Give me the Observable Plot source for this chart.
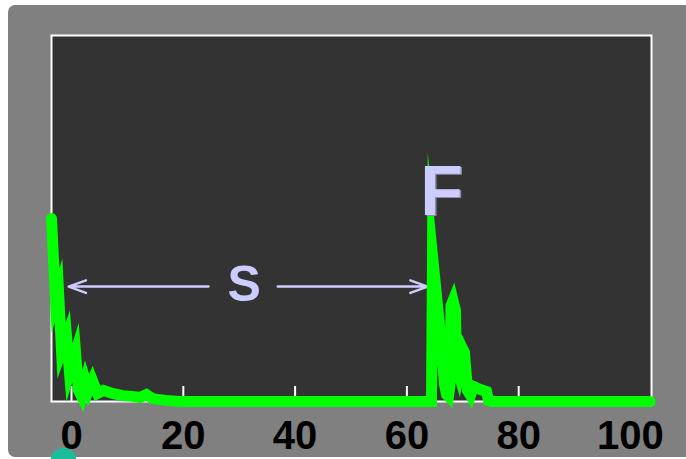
<!DOCTYPE html>
<html>
<head>
<meta charset="utf-8">
<script src="https://cdn.jsdelivr.net/npm/d3@7"></script>
<script src="https://cdn.jsdelivr.net/npm/@observablehq/plot@0.6"></script>
<style>
  html, body { margin: 0; padding: 0; background: #ffffff; }
  #wrap { position: relative; width: 686px; height: 459px; overflow: hidden; }
  #panel { position: absolute; left: 8px; top: 5px; width: 700px; height: 452px; background: #808080; border-radius: 7px; }
  #chart { position: absolute; left: 0; top: 0; }
</style>
</head>
<body>
<div id="wrap"><div id="panel"></div><div id="chart"></div></div>
<script>
// Signal trace (x position, amplitude)
const traceX = [-3.58, -2.86, -2.33, -1.79, -0.89, -0.36, 0.72, 1.25, 1.79, 2.5, 3.04, 3.76, 4.65, 5.72, 7.33, 9.12, 10.9, 12.3, 13.4, 14.5, 16.8, 19.5,
  64.40, 64.58, 66.01, 66.73, 67.08, 67.44, 67.71, 67.89, 68.25, 68.69, 68.87, 69.23, 69.59, 69.95, 70.30,
  70.84, 71.38, 71.91, 73.17, 74.24, 74.60, 75.31, 103.5];
const traceY = [50.0, 27.6, 30.3, 13.9, 17.8, 7.9, 13.4, 3.0, 1.4, 5.7, 3.0, 5.7, 2.2, 3.0, 2.2, 1.6, 1.4, 1.1, 1.9, 0.8, 0.3, 0,
  0, 39.9, 18.0, 4.64, 1.91, 1.37, 4.37, 26.23, 27.6, 24.86, 9.84, 7.92, 11.2, 14.48, 13.39,
  3.01, 1.64, 4.1, 3.28, 2.73, 0.27, 0, 0];

// Axis
const tickValues = [0, 20, 40, 60, 80];
const labelValues = [0, 20, 40, 60, 80, 100];
const tickLabels = ["0", "20", "40", "60", "80", "100"];

// Annotations
const labelText = ["S", "F"];
const labelX = [30.9, 66.2];
const labelY = [31.7, 57.2];
const labelSize = [50, 70];
const arrowX1 = [24.5, 36.9];
const arrowX2 = [-0.5, 63.7];
const arrowY = [31.4, 31.4];
const markerX = [-1.43];
const markerY = [-16.2];

const trace = traceX.map((x, i) => ({x, y: traceY[i]}));
const labels = labelText.map((t, i) => ({t, x: labelX[i], y: labelY[i], s: labelSize[i]}));
const arrows = arrowX1.map((x1, i) => ({x1, x2: arrowX2[i], y: arrowY[i]}));
const markers = markerX.map((x, i) => ({x, y: markerY[i]}));

const font = "'Liberation Sans', Arial, Helvetica, sans-serif";

const chart = Plot.plot({
  width: 686,
  height: 459,
  marginLeft: 51,
  marginRight: 35,
  marginTop: 35,
  marginBottom: 58,
  style: {background: "transparent", fontFamily: font, overflow: "visible"},
  x: {domain: [-3.58, 103.76]},
  y: {domain: [0, 100], axis: null},
  marks: [
    Plot.frame({fill: "#333333", stroke: "white", strokeWidth: 2}),
    Plot.axisX({ticks: tickValues, tickSize: -15, stroke: "white", strokeWidth: 2, fill: "none", label: null}),
    Plot.axisX({ticks: labelValues, tickSize: 0, tickPadding: 19, fill: "black", fontSize: 40, fontWeight: "bold",
      tickFormat: (d) => tickLabels[labelValues.indexOf(d)], label: null}),
    Plot.arrow(arrows, {x1: "x1", x2: "x2", y1: "y", y2: "y", stroke: "#ccccff", strokeWidth: 2.5, headLength: 11, headAngle: 40}),
    Plot.text(labels.filter(d => d.t === "S"), {x: "x", y: "y", text: "t", fontSize: 50, fill: "#ccccff", fontWeight: "bold", fontFamily: font}),
    Plot.line(trace, {x: "x", y: "y", stroke: "#00ff00", strokeWidth: 11, strokeLinejoin: "miter", strokeMiterlimit: 30, strokeLinecap: "round"}),
    Plot.text(labels.filter(d => d.t === "F"), {x: "x", y: "y", text: "t", fontSize: 70, dx: 1.5, dy: 1.5, fill: "#8a8aaa", fontWeight: "bold", fontFamily: font}),
    Plot.text(labels.filter(d => d.t === "F"), {x: "x", y: "y", text: "t", fontSize: 70, fill: "#ccccff", fontWeight: "bold", fontFamily: font}),
    Plot.dot(markers, {x: "x", y: "y", r: 13, fill: "#1abc9c", stroke: "none"})
  ]
});
document.getElementById("chart").appendChild(chart);
</script>
</body>
</html>
